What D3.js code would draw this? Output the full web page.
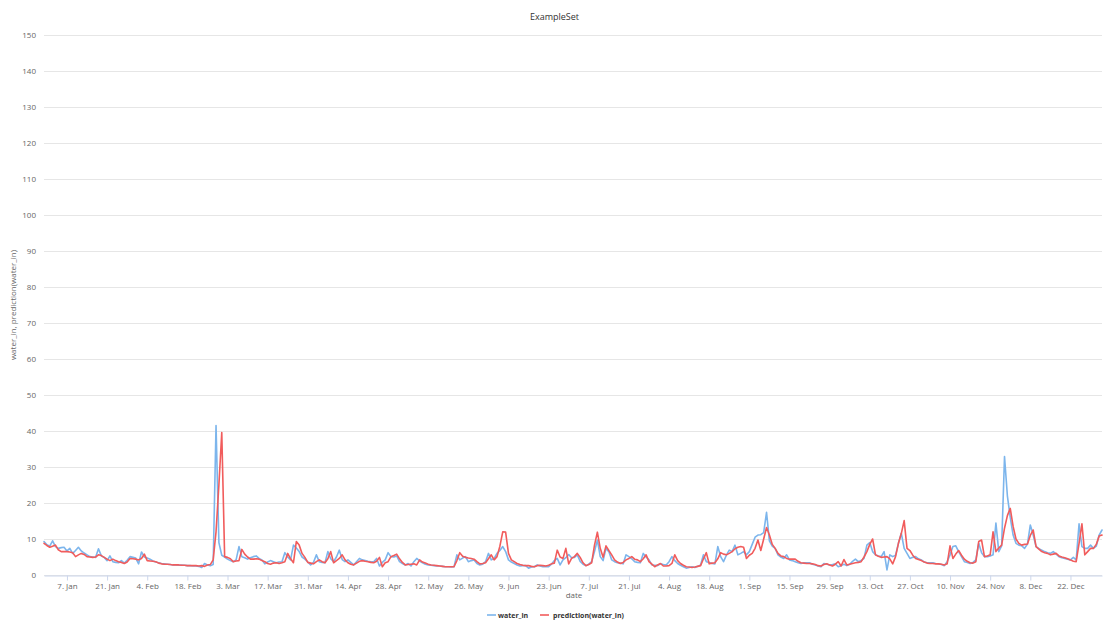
<!DOCTYPE html>
<html>
<head>
<meta charset="utf-8">
<script src="https://cdn.jsdelivr.net/npm/d3@7/dist/d3.min.js"></script>
<style>
  html, body { margin: 0; padding: 0; background: #fff; }
  svg { display: block; font-family: "Open Sans", "DejaVu Sans", sans-serif; }
</style>
</head>
<body>
<svg id="chart" width="1105" height="624"></svg>
<script>
// Daily series, first day 30 Dec 2007
const startDate = [2007, 11, 30];

const waterIn = [
  9.3, 8.4, 8.0, 9.5, 7.9, 7.4, 7.6, 7.7, 6.7, 7.4,
  6.0, 6.8, 7.7, 6.7, 6.1, 5.6, 5.1, 5.0, 4.9, 7.3,
  5.3, 4.9, 4.0, 5.3, 3.7, 3.5, 3.4, 4.0, 3.3, 4.1,
  5.1, 4.9, 4.7, 3.1, 6.4, 5.0, 4.7, 4.4, 3.9, 3.6,
  3.4, 3.2, 3.1, 3.0, 2.9, 2.8, 2.8, 2.7, 2.8, 2.7,
  2.6, 2.6, 2.5, 2.5, 2.4, 2.1, 3.2, 2.8, 2.6, 2.9,
  41.5, 9.0, 5.5, 5.0, 4.4, 4.0, 3.7, 4.2, 7.9, 5.1,
  4.8, 4.4, 4.8, 5.1, 5.3, 4.6, 4.2, 3.1, 3.6, 4.0,
  3.7, 3.4, 3.6, 3.7, 6.2, 5.0, 4.2, 8.3, 7.5, 6.5,
  5.0, 4.4, 3.6, 2.8, 3.5, 5.6, 3.7, 3.5, 3.4, 6.5,
  4.5, 3.7, 5.0, 6.9, 4.3, 3.7, 4.2, 3.5, 2.8, 3.7,
  4.6, 4.2, 4.0, 3.8, 3.7, 3.7, 4.6, 2.5, 3.5, 4.2,
  6.2, 5.1, 5.0, 5.3, 3.7, 3.2, 2.8, 3.2, 2.5, 3.7,
  4.6, 3.9, 3.4, 3.0, 2.8, 2.7, 2.6, 2.5, 2.5, 2.4,
  2.3, 2.3, 2.2, 2.3, 5.6, 4.2, 4.7, 5.1, 3.7, 4.0,
  4.2, 3.2, 2.8, 3.0, 3.7, 6.0, 4.2, 4.6, 6.0, 6.8,
  7.9, 6.5, 4.2, 3.6, 3.2, 2.8, 2.5, 2.6, 2.6, 1.9,
  2.2, 2.3, 2.8, 2.5, 2.3, 2.4, 2.3, 3.0, 4.0, 4.6,
  2.8, 4.2, 4.8, 5.7, 4.8, 4.9, 5.6, 3.8, 3.0, 2.6,
  3.0, 3.7, 6.5, 9.7, 5.1, 4.0, 7.4, 6.5, 4.2, 3.7,
  3.4, 3.3, 3.1, 5.6, 5.1, 4.5, 3.7, 3.5, 3.4, 6.0,
  5.0, 4.2, 2.8, 2.7, 2.6, 3.1, 2.9, 2.8, 3.7, 5.1,
  4.0, 3.2, 2.7, 2.3, 1.9, 2.1, 2.3, 2.1, 2.4, 2.8,
  5.6, 3.7, 3.5, 3.2, 3.1, 7.9, 5.1, 3.7, 5.5, 6.9,
  6.5, 8.3, 5.6, 6.0, 6.5, 5.6, 6.5, 8.5, 10.5, 11.1,
  11.2, 11.8, 17.4, 9.5, 8.0, 7.4, 5.6, 5.0, 4.6, 5.6,
  4.2, 4.0, 3.7, 3.4, 3.2, 3.4, 3.4, 3.4, 3.0, 2.8,
  2.5, 2.3, 3.2, 3.0, 2.8, 2.9, 3.1, 2.3, 2.6, 3.0,
  2.6, 3.0, 3.8, 4.4, 3.7, 4.0, 4.6, 8.3, 9.0, 6.5,
  5.6, 5.3, 5.1, 6.5, 1.4, 5.6, 5.1, 5.5, 8.8, 11.6,
  7.4, 6.0, 4.6, 4.9, 5.1, 4.5, 4.2, 3.6, 3.4, 3.4,
  3.4, 3.2, 3.1, 2.9, 2.6, 3.7, 5.6, 7.9, 8.1, 6.5,
  5.1, 3.7, 3.5, 3.2, 3.5, 4.2, 8.8, 6.2, 5.1, 5.1,
  5.3, 5.6, 14.4, 6.5, 8.1, 32.9, 22.0, 16.0, 11.1, 8.8,
  8.3, 8.1, 7.4, 8.6, 13.9, 11.1, 7.9, 7.3, 6.9, 6.5,
  6.2, 6.0, 6.5, 5.8, 5.1, 4.8, 4.6, 4.4, 4.2, 4.9,
  4.2, 14.2, 7.9, 7.4, 7.4, 8.3, 7.4, 8.0, 11.1, 12.5
];

const predictionWaterIn = [
  8.8, 8.2, 7.7, 8.0, 8.3, 7.0, 6.5, 6.5, 6.5, 6.4,
  6.2, 5.1, 5.6, 6.0, 5.7, 5.1, 5.0, 4.9, 5.0, 5.6,
  5.4, 4.9, 4.4, 4.0, 4.4, 4.0, 3.7, 3.5, 3.2, 3.6,
  4.6, 4.5, 4.4, 4.2, 4.6, 5.8, 4.0, 3.9, 3.8, 3.7,
  3.3, 3.1, 3.0, 3.0, 2.9, 2.8, 2.8, 2.8, 2.7, 2.7,
  2.6, 2.6, 2.6, 2.6, 2.5, 2.6, 2.4, 2.8, 2.9, 4.2,
  12.0, 25.0, 39.6, 5.1, 4.9, 4.5, 3.7, 3.9, 4.0, 7.1,
  5.8, 5.0, 4.4, 4.4, 4.5, 4.4, 4.0, 3.7, 3.2, 3.0,
  3.3, 3.4, 3.2, 3.4, 3.7, 6.0, 4.5, 3.4, 9.3, 8.3,
  6.0, 4.9, 3.5, 3.3, 3.1, 3.7, 4.2, 3.7, 3.4, 4.5,
  6.5, 3.4, 4.0, 4.6, 5.6, 4.2, 3.4, 3.0, 2.8, 3.3,
  3.8, 4.0, 3.8, 3.7, 3.5, 3.4, 3.8, 4.9, 2.3, 3.4,
  3.7, 5.1, 5.4, 5.8, 4.5, 3.5, 2.8, 2.9, 3.0, 3.1,
  2.8, 4.2, 3.6, 3.3, 3.0, 2.8, 2.7, 2.6, 2.5, 2.4,
  2.3, 2.3, 2.3, 2.3, 4.0, 6.2, 5.2, 4.9, 4.7, 4.6,
  4.4, 3.7, 3.1, 3.2, 3.4, 4.5, 5.6, 4.2, 5.1, 8.0,
  12.0, 11.9, 6.0, 4.2, 3.7, 3.2, 2.9, 2.7, 2.6, 2.6,
  2.4, 2.3, 2.6, 2.7, 2.6, 2.5, 2.7, 3.1, 3.3, 6.9,
  5.0, 4.6, 7.4, 3.1, 4.6, 5.1, 6.0, 4.9, 3.4, 2.6,
  2.9, 3.4, 8.3, 11.9, 7.4, 4.9, 8.1, 6.8, 5.6, 4.2,
  3.6, 3.2, 3.5, 4.2, 4.6, 5.1, 4.4, 4.2, 3.7, 4.5,
  5.6, 3.7, 3.0, 2.3, 2.8, 3.2, 2.5, 2.5, 2.6, 3.2,
  5.6, 4.0, 3.2, 2.7, 2.3, 2.2, 2.1, 2.2, 2.4, 2.6,
  4.5, 6.2, 3.1, 3.3, 3.4, 4.5, 6.2, 5.8, 5.6, 6.0,
  6.5, 7.3, 7.7, 7.9, 7.7, 4.6, 5.5, 6.0, 7.4, 9.7,
  6.8, 10.0, 13.2, 11.1, 8.5, 7.4, 6.0, 5.3, 5.1, 4.6,
  4.4, 4.4, 4.4, 3.8, 3.4, 3.3, 3.2, 3.2, 3.1, 2.9,
  2.6, 2.5, 2.9, 3.1, 2.8, 2.5, 3.0, 3.7, 2.5, 4.3,
  2.8, 3.0, 3.2, 3.4, 3.5, 3.7, 5.0, 6.5, 8.5, 10.0,
  5.6, 5.2, 4.9, 5.0, 5.1, 4.5, 3.1, 5.1, 8.8, 11.5,
  15.1, 7.4, 6.8, 5.5, 4.6, 4.3, 4.0, 3.6, 3.3, 3.2,
  3.2, 3.1, 3.1, 3.0, 2.8, 3.1, 8.1, 4.6, 5.8, 6.8,
  5.5, 4.4, 3.8, 3.4, 3.3, 3.7, 9.3, 9.7, 5.1, 5.3,
  5.6, 12.0, 6.5, 7.5, 8.3, 13.0, 16.5, 18.5, 13.5, 10.0,
  8.8, 8.3, 8.5, 8.6, 11.0, 12.5, 7.9, 7.2, 6.5, 6.2,
  6.0, 5.6, 5.8, 6.0, 5.3, 5.0, 4.8, 4.5, 4.2, 3.8,
  3.7, 8.8, 14.2, 5.6, 6.5, 7.4, 7.4, 8.5, 10.8, 11.1
];

const xTickDates = [
  "2008-01-07", "2008-01-21", "2008-02-04", "2008-02-18", "2008-03-03",
  "2008-03-17", "2008-03-31", "2008-04-14", "2008-04-28", "2008-05-12",
  "2008-05-26", "2008-06-09", "2008-06-23", "2008-07-07", "2008-07-21",
  "2008-08-04", "2008-08-18", "2008-09-01", "2008-09-15", "2008-09-29",
  "2008-10-13", "2008-10-27", "2008-11-10", "2008-11-24", "2008-12-08",
  "2008-12-22"
];
const yTicks = [0, 10, 20, 30, 40, 50, 60, 70, 80, 90, 100, 110, 120, 130, 140, 150];

const seriesNames = ["water_in", "prediction(water_in)"];
const seriesColors = ["#7cb5ec", "#f15c5c"];

const W = 1105, H = 624;
const margin = { left: 44, right: 3, top: 35, bottom: 49 };

const parseDay = d3.timeParse("%Y-%m-%d");
const dates = waterIn.map((_, i) => new Date(startDate[0], startDate[1], startDate[2] + i));

const svg = d3.select("#chart");

const x = d3.scaleTime()
  .domain([dates[0], dates[dates.length - 1]])
  .range([margin.left, W - margin.right]);
const y = d3.scaleLinear()
  .domain([0, 150])
  .range([H - margin.bottom, margin.top]);

// Horizontal grid
svg.append("g")
  .selectAll("line")
  .data(yTicks)
  .join("line")
  .attr("x1", margin.left)
  .attr("x2", W - margin.right)
  .attr("y1", d => y(d) + 0.5)
  .attr("y2", d => y(d) + 0.5)
  .attr("stroke", "#e6e6e6")
  .attr("stroke-width", 1);

// Y axis labels
const yAxis = svg.append("g")
  .attr("transform", `translate(${margin.left},0)`)
  .call(d3.axisLeft(y).tickValues(yTicks).tickSize(0).tickPadding(8));
yAxis.select(".domain").remove();
yAxis.selectAll("text")
  .attr("fill", "#666")
  .style("font-size", "8px")
  .style("font-family", "'Open Sans', 'DejaVu Sans', sans-serif");

// X axis
const xAxis = svg.append("g")
  .attr("transform", `translate(0,${H - margin.bottom + 0.5})`)
  .call(d3.axisBottom(x)
    .tickValues(xTickDates.map(parseDay))
    .tickFormat(d3.timeFormat("%-d. %b"))
    .tickSize(5)
    .tickPadding(3)
    .tickSizeOuter(0));
xAxis.select(".domain").attr("stroke", "#ccd6eb");
xAxis.selectAll(".tick line").attr("stroke", "#ccd6eb");
xAxis.selectAll("text")
  .attr("fill", "#666")
  .style("font-size", "8px")
  .style("font-family", "'Open Sans', 'DejaVu Sans', sans-serif");

// Series lines
const line = d3.line()
  .x((d, i) => x(dates[i]))
  .y(d => y(d));

[waterIn, predictionWaterIn].forEach((vals, k) => {
  svg.append("path")
    .datum(vals)
    .attr("fill", "none")
    .attr("stroke", seriesColors[k])
    .attr("stroke-width", 1.6)
    .attr("stroke-linejoin", "round")
    .attr("stroke-linecap", "round")
    .attr("d", line);
});

// Title
svg.append("text")
  .attr("x", W / 2 + 2)
  .attr("y", 20)
  .attr("text-anchor", "middle")
  .attr("fill", "#333")
  .style("font-size", "9px")
  .text("ExampleSet");

// Axis titles
svg.append("text")
  .attr("x", (margin.left + W - margin.right) / 2 + 1)
  .attr("y", 598)
  .attr("text-anchor", "middle")
  .attr("fill", "#666")
  .style("font-size", "8px")
  .text("date");

svg.append("text")
  .attr("transform", `translate(16,${(margin.top + H - margin.bottom) / 2}) rotate(-90)`)
  .attr("text-anchor", "middle")
  .attr("fill", "#666")
  .style("font-size", "8px")
  .text("water_in, prediction(water_in)");

// Legend
const legendItems = [
  { sx: 487, tx: 498 },
  { sx: 540, tx: 553 }
];
const legend = svg.append("g");
seriesNames.forEach((name, k) => {
  legend.append("line")
    .attr("x1", legendItems[k].sx)
    .attr("x2", legendItems[k].sx + 9)
    .attr("y1", 615)
    .attr("y2", 615)
    .attr("stroke", seriesColors[k])
    .attr("stroke-width", 1.6);
  legend.append("text")
    .attr("x", legendItems[k].tx)
    .attr("y", 618)
    .attr("fill", "#333")
    .style("font-size", "7px")
    .style("font-weight", "bold")
    .text(name);
});
</script>
</body>
</html>
